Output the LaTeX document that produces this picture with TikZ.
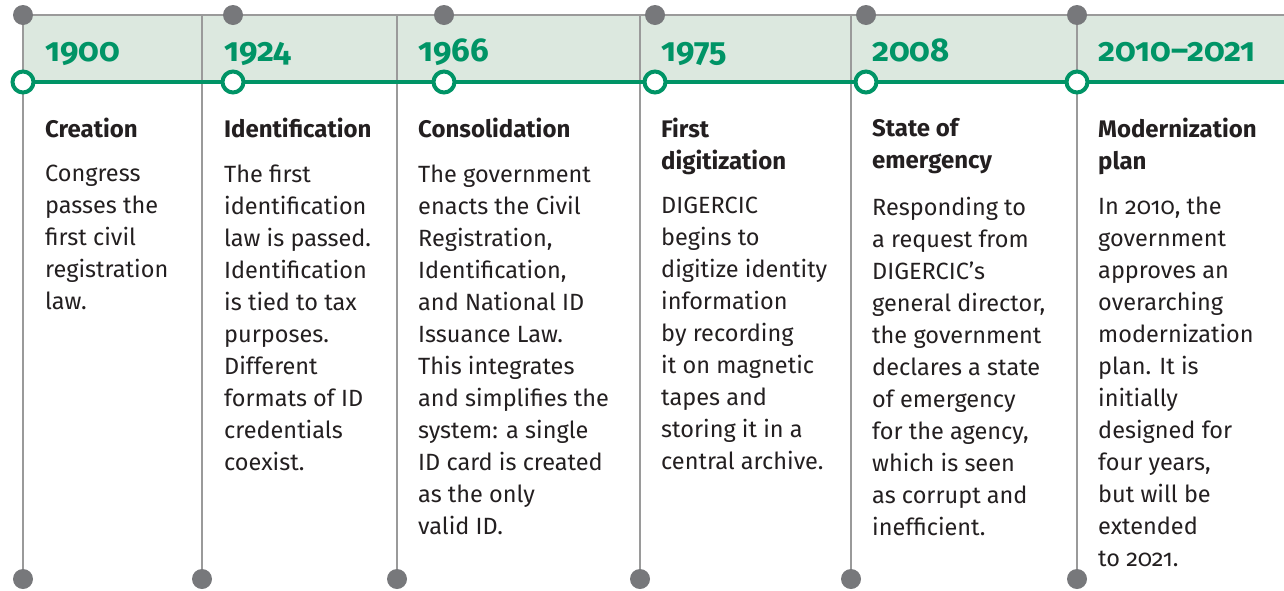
\documentclass[tikz,border=0pt]{standalone}
\usepackage{fontspec}
\setmainfont{Fira Sans}[Numbers=OldStyle]
\definecolor{tlgreen}{HTML}{009466}
\definecolor{tlband}{HTML}{DCE8DF}
\definecolor{tlline}{HTML}{9A9A9A}
\definecolor{tldot}{HTML}{77787B}
\definecolor{tltext}{HTML}{231F20}
\tikzset{
  year/.style={anchor=base west,inner sep=0pt,text=tlgreen,
    font=\fontsize{33}{36}\selectfont\bfseries},
  head/.style={anchor=north west,inner sep=0pt,align=left,text=tltext,
    font=\fontsize{24}{32}\selectfont\bfseries,execute at begin node=\strut},
  body/.style={anchor=north west,inner sep=0pt,align=left,text=tltext,
    font=\fontsize{23.5}{32}\selectfont,execute at begin node=\strut},
  gdot/.style={circle,fill=tldot,minimum size=20pt,inner sep=0pt},
  ring/.style={circle,draw=tlgreen,line width=4pt,fill=white,minimum size=21pt,inner sep=0pt}
}
\begin{document}
\begin{tikzpicture}[x=1pt,y=-1pt]
  \useasboundingbox (0,0) rectangle (1284,590);
  % band
  \fill[tlband] (23,15) rectangle (1284,82);
  \coordinate (bandend) at (1284,15);
  \coordinate (lineend) at (1284,82);
  % verticals
  \draw
    (23,15) coordinate (v0)
    (202,15) coordinate (v1)
    (397,15) coordinate (v2)
    (640,15) coordinate (v3)
    (851,15) coordinate (v4)
    (1077,15) coordinate (v5);
  \begin{scope}[draw=tlline,line width=1.5pt]
    \draw (v0) to (bandend);
    \draw (v0) to (23,579) node[gdot] (b0){};
    \draw (v1) to (202,579) node[gdot] (b1){};
    \draw (v2) to (397,579) node[gdot] (b2){};
    \draw (v3) to (640,579) node[gdot] (b3){};
    \draw (v4) to (851,579) node[gdot] (b4){};
    \draw (v5) to (1077,579) node[gdot] (b5){};
  \end{scope}
  % top dots
  \draw
    (23,15) node[gdot] (t0){}
    (233,15) node[gdot] (t1){}
    (444,15) node[gdot] (t2){}
    (655,15) node[gdot] (t3){}
    (866,15) node[gdot] (t4){}
    (1077,15) node[gdot] (t5){};
  % green line
  \draw[tlgreen,line width=4.5pt] (23,82) coordinate (r0) -- (lineend);
  \draw
    (23,82) node[ring] (c0){}
    (233,82) node[ring] (c1){}
    (444,82) node[ring] (c2){}
    (655,82) node[ring] (c3){}
    (866,82) node[ring] (c4){}
    (1077,82) node[ring] (c5){};
  % years
  \draw
    (45,61) node[year] (y0){1900}
    (224,61) node[year] (y1){1924}
    (418,61) node[year] (y2){1966}
    (661,61) node[year] (y3){1975}
    (872,61) node[year] (y4){2008}
    (1098,61) node[year] (y5){2010--2021};
  % headings
  \draw
    (45,114.6) node[head] (h0){Creation}
    (224,114.6) node[head] (h1){Identification}
    (418,114.6) node[head] (h2){Consolidation}
    (661,118.1) node[head] (h3){First\\digitization}
    (872,118.1) node[head] (h4){State of\\emergency}
    (1098,118.1) node[head] (h5){Modernization\\plan};
  % texts
  \draw
    (45,165.1) node[body] (d0){Congress\\passes the\\first civil\\registration\\law.}
    (224,165.1) node[body] (d1){The first\\identification\\law is passed.\\Identification\\is tied to tax\\purposes.\\Different\\formats of ID\\credentials\\coexist.}
    (418,165.1) node[body] (d2){The government\\enacts the Civil\\Registration,\\Identification,\\and National ID\\Issuance Law.\\This integrates\\and simplifies the\\system: a single\\ID card is created\\as the only\\valid ID.}
    (661,197.1) node[body] (d3){DIGERCIC\\begins to\\digitize identity\\information\\by recording\\it on magnetic\\tapes and\\storing it in a\\central archive.}
    (872,197.1) node[body] (d4){Responding to\\a request from\\DIGERCIC’s\\general director,\\the government\\declares a state\\of emergency\\for the agency,\\which is seen\\as corrupt and\\inefficient.}
    (1098,197.1) node[body] (d5){In 2010, the\\government\\approves an\\overarching\\modernization\\plan. It is\\initially\\designed for\\four years,\\but will be\\extended\\to 2021.};
\end{tikzpicture}
\end{document}
